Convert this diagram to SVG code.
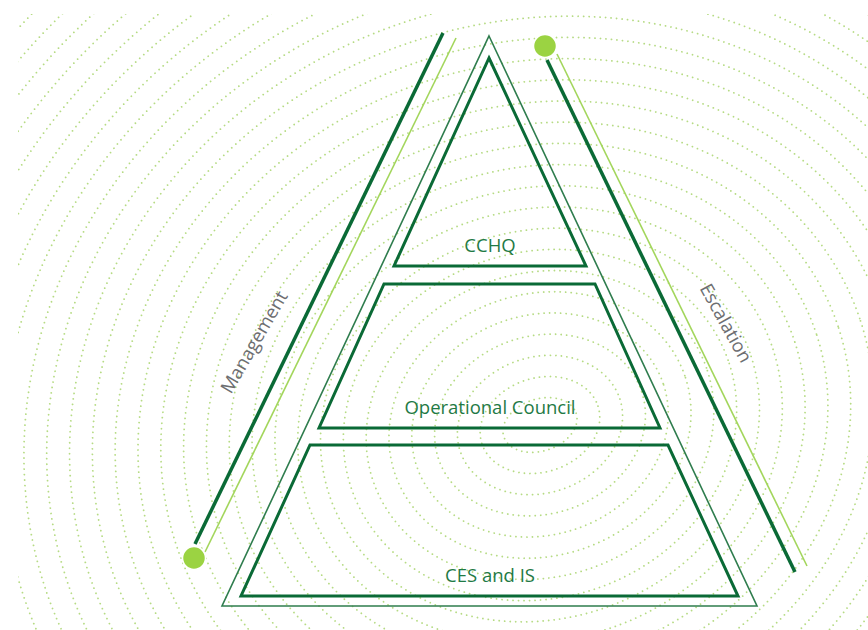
<svg xmlns="http://www.w3.org/2000/svg" width="868" height="630" viewBox="0 0 868 630">
<style>
.bg{fill:none;stroke:#a9d56f;stroke-width:1.8;stroke-linecap:round;stroke-dasharray:0 5.5;opacity:.85}
.tier{fill:none;stroke:#0a6a36;stroke-width:3;stroke-linejoin:miter}
.outer{fill:none;stroke:#2f7d4e;stroke-width:1.6;stroke-linejoin:miter}
.dark{stroke:#0a6a36;stroke-width:3.5}
.light{stroke:#a3d65c;stroke-width:1.6}
.dot{fill:#9bd342;stroke:#fff;stroke-width:1.5}
.lbl{font-family:"Open Sans","Noto Sans",sans-serif;font-size:18.5px;fill:#1f7a45;text-anchor:middle}
.side{font-family:"Open Sans","Noto Sans",sans-serif;font-size:18.5px;fill:#6d6e71;text-anchor:middle}
</style>
<defs>
<clipPath id="clip"><rect x="18" y="14" width="850" height="616"/></clipPath>
</defs>
<rect width="868" height="630" fill="#fff"/>
<g id="background" clip-path="url(#clip)">
<g transform="rotate(-18 540 425)">
<ellipse class="bg" cx="540" cy="425" rx="38" ry="26"/>
<ellipse class="bg" cx="540" cy="425" rx="61" ry="47"/>
<ellipse class="bg" cx="540" cy="425" rx="84" ry="68"/>
<ellipse class="bg" cx="540" cy="425" rx="107" ry="89"/>
<ellipse class="bg" cx="540" cy="425" rx="130" ry="110"/>
<ellipse class="bg" cx="540" cy="425" rx="153" ry="131"/>
<ellipse class="bg" cx="540" cy="425" rx="176" ry="152"/>
<ellipse class="bg" cx="540" cy="425" rx="199" ry="173"/>
<ellipse class="bg" cx="540" cy="425" rx="222" ry="194"/>
<ellipse class="bg" cx="540" cy="425" rx="245" ry="215"/>
<ellipse class="bg" cx="540" cy="425" rx="268" ry="236"/>
<ellipse class="bg" cx="540" cy="425" rx="291" ry="257"/>
<ellipse class="bg" cx="540" cy="425" rx="314" ry="278"/>
<ellipse class="bg" cx="540" cy="425" rx="337" ry="299"/>
<ellipse class="bg" cx="540" cy="425" rx="360" ry="320"/>
<ellipse class="bg" cx="540" cy="425" rx="383" ry="341"/>
<ellipse class="bg" cx="540" cy="425" rx="406" ry="362"/>
<ellipse class="bg" cx="540" cy="425" rx="429" ry="383"/>
<ellipse class="bg" cx="540" cy="425" rx="452" ry="404"/>
<ellipse class="bg" cx="540" cy="425" rx="475" ry="425"/>
<ellipse class="bg" cx="540" cy="425" rx="498" ry="446"/>
<ellipse class="bg" cx="540" cy="425" rx="521" ry="467"/>
<ellipse class="bg" cx="540" cy="425" rx="544" ry="488"/>
<ellipse class="bg" cx="540" cy="425" rx="567" ry="509"/>
<ellipse class="bg" cx="540" cy="425" rx="590" ry="530"/>
<ellipse class="bg" cx="540" cy="425" rx="613" ry="551"/>
<ellipse class="bg" cx="540" cy="425" rx="636" ry="572"/>
<ellipse class="bg" cx="540" cy="425" rx="659" ry="593"/>
<ellipse class="bg" cx="540" cy="425" rx="682" ry="614"/>
<ellipse class="bg" cx="540" cy="425" rx="705" ry="635"/>
<ellipse class="bg" cx="540" cy="425" rx="728" ry="656"/>
</g>
</g>
<g id="outer-triangle">
<polygon class="outer" points="489,36 757,606 222,606"/>
</g>
<g id="cchq">
<polygon class="tier" points="489,58 586,266 394,266"/>
<text class="lbl" x="490" y="252">CCHQ</text>
</g>
<g id="operational-council">
<polygon class="tier" points="384,284 595,284 660,428 319,428"/>
<text class="lbl" x="490" y="414">Operational Council</text>
</g>
<g id="ces-and-is">
<polygon class="tier" points="310,445 668,445 738,596 241,596"/>
<text class="lbl" x="490" y="582">CES and IS</text>
</g>
<g id="connectors">
<line class="dark" x1="443" y1="33" x2="195" y2="544"/>
<line class="light" x1="456" y1="38" x2="205" y2="552"/>
<line class="dark" x1="547" y1="60" x2="795" y2="572"/>
<line class="light" x1="557" y1="54" x2="807" y2="566"/>
</g>
<g id="management">
<circle class="dot" cx="194" cy="558" r="11.5"/>
<text class="side" transform="translate(254 342) rotate(-60)" dy="0.35em">Management</text>
</g>
<g id="escalation">
<circle class="dot" cx="545" cy="46" r="11.5"/>
<text class="side" transform="translate(726 323) rotate(61)" dy="0.35em">Escalation</text>
</g>
</svg>
